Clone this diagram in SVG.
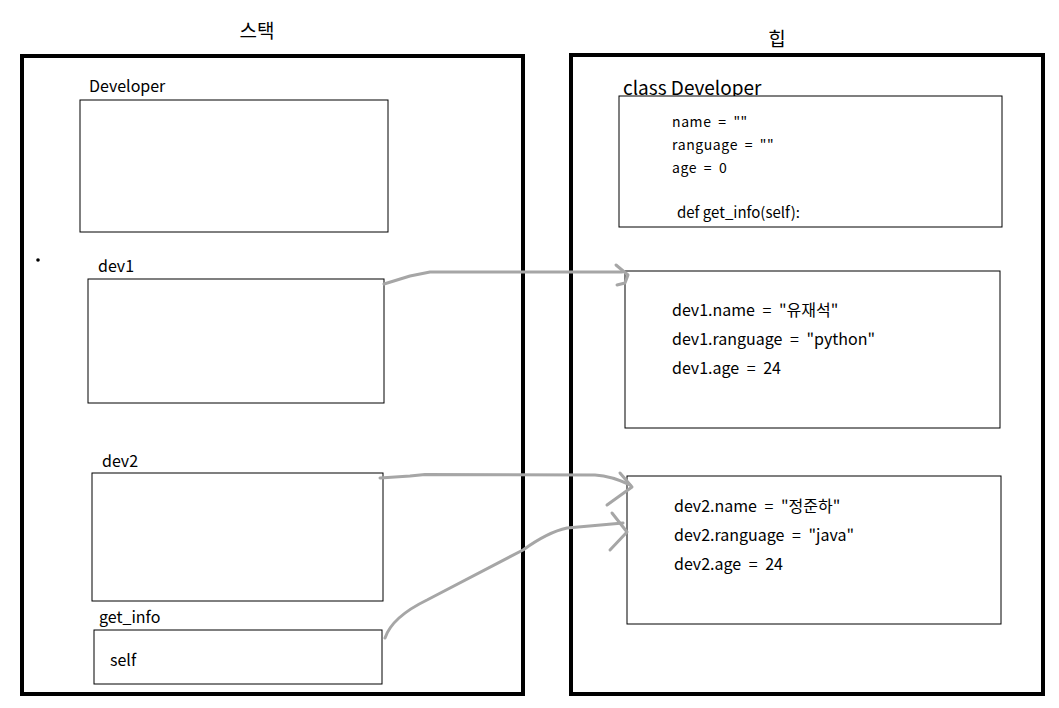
<svg xmlns="http://www.w3.org/2000/svg" width="1059" height="708" viewBox="0 0 1059 708">
<style>
.frame{fill:none;stroke:#000;stroke-width:4}
.box{fill:#fff;stroke:#000;stroke-width:1}
.t{font-family:"Noto Sans CJK KR","Noto Sans",sans-serif;fill:#000}
.lbl{font-size:16px}
.small{font-size:14px;letter-spacing:0.6px;word-spacing:3px}
.val{font-size:16px;word-spacing:4px}
.conn{fill:none;stroke:#a6a6a6;stroke-width:3;stroke-linecap:round;stroke-linejoin:round}
</style>
<rect width="1059" height="708" fill="#fff"/>
<g id="stack">
<rect class="frame" x="22" y="56" width="501" height="638"/>
<text class="t" x="257" y="38" font-size="19" text-anchor="middle">스택</text>
<circle cx="38" cy="260" r="1.8" fill="#000"/>
</g>
<g id="heap">
<rect class="frame" x="571" y="55" width="472" height="639"/>
<text class="t" x="777" y="46" font-size="19" text-anchor="middle">힙</text>
</g>
<g id="developer">
<text class="t lbl" x="89" y="92">Developer</text>
<rect class="box" x="80" y="100" width="308" height="132"/>
</g>
<g id="dev1">
<text class="t lbl" x="98" y="272">dev1</text>
<rect class="box" x="88" y="279" width="296" height="124"/>
</g>
<g id="dev2">
<text class="t lbl" x="102" y="467">dev2</text>
<rect class="box" x="92" y="473" width="291" height="128"/>
</g>
<g id="get_info">
<text class="t lbl" x="99" y="623">get_info</text>
<rect class="box" x="94" y="630" width="288" height="54"/>
<text class="t lbl" x="110" y="666">self</text>
</g>
<g id="class_developer">
<text class="t" x="623" y="95" font-size="19">class Developer</text>
<rect class="box" x="619" y="96" width="383" height="131"/>
<text class="t small" x="672" y="127">name = ""</text>
<text class="t small" x="672" y="150">ranguage = ""</text>
<text class="t small" x="672" y="173">age = 0</text>
<text class="t" x="677" y="218" font-size="15">def get_info(self):</text>
</g>
<g id="dev1_obj">
<rect class="box" x="625" y="271" width="375" height="157"/>
<text class="t val" x="672" y="316">dev1.name = "유재석"</text>
<text class="t val" x="672" y="345">dev1.ranguage = "python"</text>
<text class="t val" x="672" y="374">dev1.age = 24</text>
</g>
<g id="dev2_obj">
<rect class="box" x="627" y="476" width="374" height="148"/>
<text class="t val" x="674" y="512">dev2.name = "정준하"</text>
<text class="t val" x="674" y="541">dev2.ranguage = "java"</text>
<text class="t val" x="674" y="570">dev2.age = 24</text>
</g>
<g id="connectors">
<path class="conn" d="M384,284 L410,276 L430,272 L622,272"/>
<path class="conn" d="M616,265 L628,275 L625,283 L617,285"/>
<path class="conn" d="M380,478 L410,476 L425,474.5 L595,475 Q612,476 630,485"/>
<path class="conn" d="M620,473 L632,487 L607,505"/>
<path class="conn" d="M385,638 Q392,617 427,600 L523,550 Q548,532 567,528 L623,523"/>
<path class="conn" d="M612,513 L627,532 L610,550"/>
</g>
</svg>
